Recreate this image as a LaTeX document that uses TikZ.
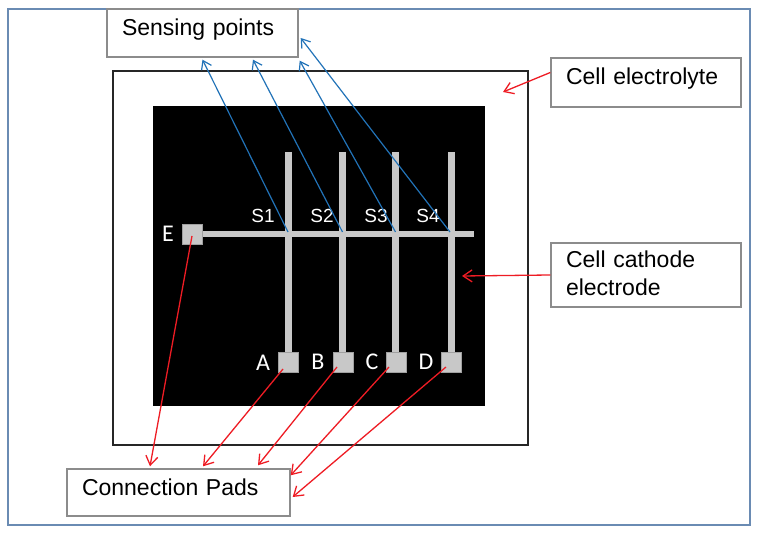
\documentclass[tikz,border=0pt]{standalone}
\usepackage{fontspec}
\setmainfont{Liberation Sans}
\newfontfamily\padfont{Carlito}
\usetikzlibrary{arrows.meta,calc}
\definecolor{framecol}{HTML}{6A8BB3}
\definecolor{boxcol}{HTML}{8C8C8C}
\definecolor{elec}{HTML}{C8C8C8}
\definecolor{bluearr}{HTML}{2273B8}
\definecolor{redarr}{HTML}{EE1C24}
\tikzset{
  txtbox/.style={draw=boxcol, line width=1.4pt, fill=white, inner xsep=15pt, align=left,
    font=\fontsize{23}{28}\selectfont, anchor=center},
  onebox/.style={txtbox, text height=11pt, text depth=6pt},
  pad/.style={fill=elec, draw=elec!80!black, line width=0.4pt, minimum size=20pt, inner sep=0pt},
  padlbl/.style={text=white, font=\padfont\fontsize{24}{24}\selectfont, inner sep=0pt},
  slbl/.style={text=white, font=\fontsize{19}{19}\selectfont, inner sep=0pt},
  bluearrow/.style={draw=bluearr, line width=1.2pt, -{Straight Barb[length=8pt,width=11pt]}},
  redarrow/.style={draw=redarr, line width=1.3pt, -{Straight Barb[length=9pt,width=12pt]}},
  vline/.style={draw=elec, line width=7pt},
  hline/.style={draw=elec, line width=5.5pt}
}
\begin{document}
\begin{tikzpicture}[x=1pt,y=-1pt]
\useasboundingbox (0,0) rectangle (758,534);
% outer frame
\draw[framecol, line width=1.8pt] (8,9) rectangle (750,525);
% electrolyte box
\draw[black!85, line width=1.4pt, fill=white] (113,71) rectangle (528,445);
% black cell
\fill[black] (153,106) rectangle (485,406);
% text boxes
\node[onebox, minimum width=191pt, minimum height=48pt, text width=161pt] (sense) at (202.5,33) {Sensing points};
\node[onebox, minimum width=190pt, minimum height=49pt, text width=160pt] (el) at (646,82.5) {Cell electrolyte};
\node[txtbox, minimum width=190pt, minimum height=64pt, text width=160pt, text height=2pt, text depth=16pt] (cath) at (646,275) {Cell cathode\\electrode};
\node[onebox, minimum width=223pt, minimum height=47pt, text width=193pt] (pads) at (178.5,492.5) {Connection Pads};
% electrodes
\draw[vline] (288,152) -- (288,356);
\draw[vline] (342.5,152) -- (342.5,356);
\draw[vline] (395.5,152) -- (395.5,356);
\draw[vline] (451,152) -- (451,356);
\draw[hline] (198,234) -- (474,234);
\coordinate (j1) at (288,232);
\coordinate (j2) at (342.5,232);
\coordinate (j3) at (395.5,232);
\coordinate (j4) at (450,232);
% pads
\node[pad] (pe) at (192,234) {};
\node[pad] (pa) at (288,362) {};
\node[pad] (pb) at (343,362) {};
\node[pad] (pc) at (396,362) {};
\node[pad] (pd) at (451,362) {};
% labels
\node[padlbl] (le) at (168,234) {E};
\node[padlbl] (la) at (263,363) {A};
\node[padlbl] (lb) at (318,362) {B};
\node[padlbl] (lc) at (372,362) {C};
\node[padlbl] (ld) at (426,362) {D};
\node[slbl] (s1) at (263,216) {S1};
\node[slbl] (s2) at (322,216) {S2};
\node[slbl] (s3) at (376,216) {S3};
\node[slbl] (s4) at (428,216) {S4};
% blue arrows
\draw[bluearrow] (j1) -- ($(sense.south)+(0,2)$);
\draw[bluearrow] (j2) -- ($(sense.south)+(50.5,2)$);
\draw[bluearrow] (j3) -- ($(sense.south east)+(1,3)$);
\draw[bluearrow] (j4) -- ($(sense.east)+(2,5)$);
% red arrows
\draw[redarrow] ($(pe)+(0,2)$) -- ($(pads.north)+(-28.5,-2)$);
\draw[redarrow] ($(pa)+(-5,7)$) -- ($(pads.north)+(24.5,-2)$);
\draw[redarrow] ($(pb)+(-6,5)$) -- ($(pads.north)+(79.5,-3)$);
\draw[redarrow] ($(pc)+(-7,5)$) -- ($(pads.north east)+(0,7)$);
\draw[redarrow] ($(pd)+(-5,5)$) -- ($(pads.east)+(2,4.5)$);
\coordinate (elt) at (503,92);
\draw[redarrow] ($(el.west)+(0,-10)$) -- (elt);
\coordinate (catht) at (462,276);
\draw[redarrow] (cath.west) -- (catht);
\end{tikzpicture}
\end{document}
